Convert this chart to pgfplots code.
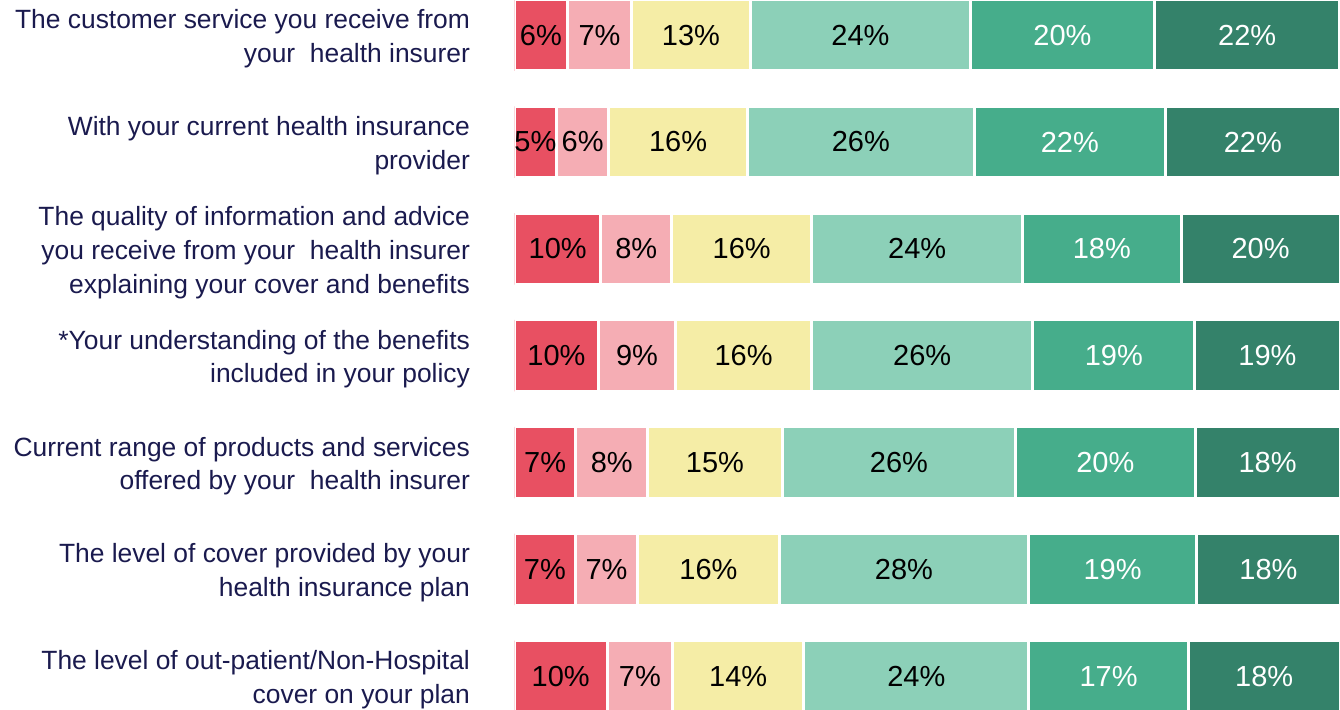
\documentclass[border=0pt]{standalone}
\usepackage{pgfplots}
\pgfplotsset{compat=1.18}
\usepackage{pgfplotstable}
\usepackage{fontspec}
\setmainfont{Liberation Sans}
\definecolor{c1}{HTML}{E85062}
\definecolor{c2}{HTML}{F5ADB4}
\definecolor{c3}{HTML}{F5EDA6}
\definecolor{c4}{HTML}{8CD0B8}
\definecolor{c5}{HTML}{46AD8B}
\definecolor{c6}{HTML}{34826A}
\definecolor{navy}{HTML}{1A1A4E}

\pgfplotstableread{
row a b c d e f la lb lc ld le lf
0 6.44 7.75 14.41 26.64 22.28 22.47 6 7 13 24 20 22
1 5.11 6.32 16.81 27.46 23.17 21.13 5 6 16 26 22 22
2 10.50 8.54 16.99 25.52 19.22 19.23 10 8 16 24 18 20
3 10.20 9.33 16.47 26.80 19.62 17.58 10 9 16 26 19 19
4 7.47 8.66 16.35 28.22 21.76 17.54 7 8 15 26 20 18
5 7.41 7.51 17.20 30.13 20.41 17.34 7 7 16 28 19 18
6 11.25 7.93 15.88 27.25 19.32 18.37 10 7 14 24 17 18
}\data

\begin{document}
\begin{tikzpicture}
\useasboundingbox (0,0) rectangle (670pt,355pt);
\pgfplotsset{common/.style={
  at={(257.15pt,0pt)}, anchor=south west, scale only axis,
  width=412.85pt, height=355pt, xmin=0, xmax=100,
  ymin=-0.329, ymax=6.315, y dir=reverse}}
\begin{axis}[common, xbar stacked, bar width=0.669,
  axis line style={draw=none}, xtick=\empty, ytick={0,...,6},
  major tick length=0pt,
  yticklabels={
    {The customer service you receive from\\your~ health insurer},
    {With your current health insurance\\provider},
    {The quality of information and advice\\you receive from your~ health insurer\\explaining your cover and benefits},
    {*Your understanding of the benefits\\included in your policy},
    {Current range of products and services\\offered by your~ health insurer},
    {The level of cover provided by your\\health insurance plan},
    {The level of out-patient/Non-Hospital\\cover on your plan}},
  yticklabel style={anchor=east, align=right, font=\fontsize{13.2}{16.9}\selectfont,
    text=navy, inner sep=0pt, xshift=-22pt, yshift=-1.75pt}]
\addplot[fill=c1, draw=white, line width=1.5pt] table[x=a,y=row]{\data};
\addplot[fill=c2, draw=white, line width=1.5pt] table[x=b,y=row]{\data};
\addplot[fill=c3, draw=white, line width=1.5pt] table[x=c,y=row]{\data};
\addplot[fill=c4, draw=white, line width=1.5pt] table[x=d,y=row]{\data};
\addplot[fill=c5, draw=white, line width=1.5pt] table[x=e,y=row]{\data};
\addplot[fill=c6, draw=white, line width=1.5pt] table[x=f,y=row]{\data};
\end{axis}
\begin{axis}[common, hide axis, point meta=explicit symbolic,
  nodes near coords={\pgfplotspointmeta\%},
  every node near coord/.append style={anchor=center, inner sep=0pt,
    font=\fontsize{14.5}{17}\selectfont}]
\addplot[draw=none, mark=none, every node near coord/.append style={text=black}]
  table[x expr=\thisrow{a}/2, y=row, meta=la]{\data};
\addplot[draw=none, mark=none, every node near coord/.append style={text=black}]
  table[x expr=\thisrow{a}+\thisrow{b}/2, y=row, meta=lb]{\data};
\addplot[draw=none, mark=none, every node near coord/.append style={text=black}]
  table[x expr=\thisrow{a}+\thisrow{b}+\thisrow{c}/2, y=row, meta=lc]{\data};
\addplot[draw=none, mark=none, every node near coord/.append style={text=black}]
  table[x expr=\thisrow{a}+\thisrow{b}+\thisrow{c}+\thisrow{d}/2, y=row, meta=ld]{\data};
\addplot[draw=none, mark=none, every node near coord/.append style={text=white}]
  table[x expr=\thisrow{a}+\thisrow{b}+\thisrow{c}+\thisrow{d}+\thisrow{e}/2, y=row, meta=le]{\data};
\addplot[draw=none, mark=none, every node near coord/.append style={text=white}]
  table[x expr=\thisrow{a}+\thisrow{b}+\thisrow{c}+\thisrow{d}+\thisrow{e}+\thisrow{f}/2, y=row, meta=lf]{\data};
\end{axis}
\end{tikzpicture}
\end{document}
